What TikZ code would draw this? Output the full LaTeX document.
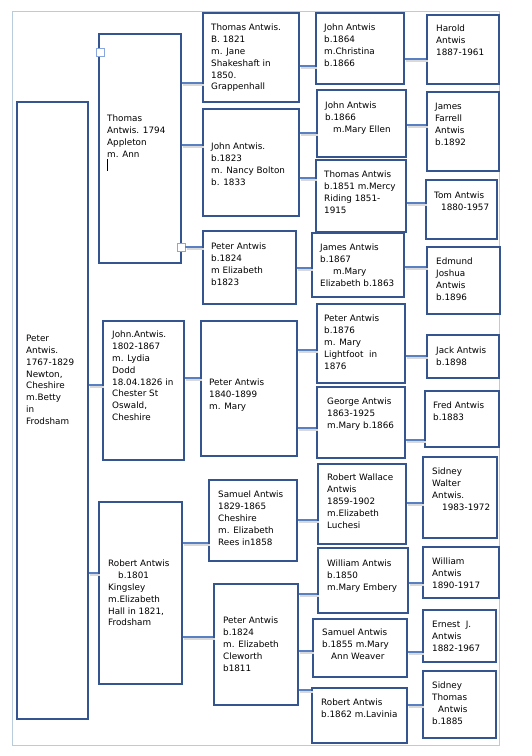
\documentclass[tikz,border=0pt]{standalone}
\usepackage{fontspec}
\setmainfont{DejaVu Sans}
\usetikzlibrary{fit}
\definecolor{boxblue}{HTML}{34558F}
\definecolor{linkblue}{HTML}{5A80C4}
\definecolor{pageline}{HTML}{B9CCDC}
\definecolor{handleblue}{HTML}{8AA6E0}

\begin{document}
\begin{tikzpicture}[x=1pt, y=-1pt,
    person/.style={draw=boxblue, line width=1.4pt, inner sep=0pt},
    txt/.style={anchor=north west, inner sep=0pt, align=left, font=\fontsize{8.8}{11.8}\selectfont},
    link/.style={draw=linkblue, line width=1.6pt, preaction={draw=black!15, line width=2.6pt, transform canvas={shift={(1.5pt,-2pt)}}}},
    handle/.style={draw=handleblue, fill=white, line width=0.8pt, minimum size=8pt, inner sep=0pt}]
    \useasboundingbox (0,0) rectangle (531,756);
    \draw[pageline, line width=0.8pt] (12,11) rectangle (499,745);

    % boxes
    \node[person, fit={(17,102) (88,719)}] (peter1767) {};
    \node[person, fit={(99,34) (181,263)}] (thomas1794) {};
    \node[person, fit={(103,321) (184,460)}] (john1802) {};
    \node[person, fit={(99,502) (182,684)}] (robert1801) {};
    \node[person, fit={(203,13) (299,102)}] (thomas1821) {};
    \node[person, fit={(203,109) (299,216)}] (john1823) {};
    \node[person, fit={(203,231) (296,304)}] (peter1824a) {};
    \node[person, fit={(201,321) (297,456)}] (peter1840) {};
    \node[person, fit={(209,480) (297,561)}] (samuel1829) {};
    \node[person, fit={(214,584) (298,705)}] (peter1824b) {};
    \node[person, fit={(316,13) (404,84)}] (john1864) {};
    \node[person, fit={(317,90) (406,157)}] (john1866) {};
    \node[person, fit={(316,160) (406,232)}] (thomas1851) {};
    \node[person, fit={(312,233) (404,297)}] (james1867) {};
    \node[person, fit={(317,304) (405,383)}] (peter1876) {};
    \node[person, fit={(317,387) (405,458)}] (george) {};
    \node[person, fit={(318,464) (406,544)}] (robertW) {};
    \node[person, fit={(318,548) (408,613)}] (william1850) {};
    \node[person, fit={(313,619) (407,677)}] (samuel1855) {};
    \node[person, fit={(312,688) (407,743)}] (robert1862) {};
    \node[person, fit={(427,15) (499,84)}] (harold) {};
    \node[person, fit={(427,92) (499,171)}] (jamesF) {};
    \node[person, fit={(426,180) (497,239)}] (tom) {};
    \node[person, fit={(427,247) (500,314)}] (edmund) {};
    \node[person, fit={(427,335) (499,378)}] (jack) {};
    \node[person, fit={(425,391) (499,447)}] (fred) {};
    \node[person, fit={(423,457) (497,538)}] (sidneyW) {};
    \node[person, fit={(423,547) (499,598)}] (william1890) {};
    \node[person, fit={(423,610) (496,662)}] (ernest) {};
    \node[person, fit={(423,671) (496,738)}] (sidneyT) {};

    % texts
    \node[txt] (t-peter1767) at (26,335) {Peter\\Antwis.\\1767-1829\\Newton,\\Cheshire\\m.Betty\\in\\Frodsham};
    \node[txt] (t-thomas1794) at (107,115) {Thomas\\Antwis. 1794\\Appleton\\m. Ann};
    \node[txt] (t-john1802) at (112,331) {John.Antwis.\\1802-1867\\m. Lydia\\Dodd\\18.04.1826 in\\Chester St\\Oswald,\\Cheshire};
    \node[txt] (t-robert1801) at (108,560) {Robert Antwis\\\hspace*{10pt}b.1801\\Kingsley\\m.Elizabeth\\Hall in 1821,\\Frodsham};
    \node[txt] (t-thomas1821) at (211,24) {Thomas Antwis.\\B. 1821\\m. Jane\\Shakeshaft in\\1850.\\Grappenhall};
    \node[txt] (t-john1823) at (211,143) {John Antwis.\\b.1823\\m. Nancy Bolton\\b. 1833};
    \node[txt] (t-peter1824a) at (211,243) {Peter Antwis\\b.1824\\m Elizabeth\\b1823};
    \node[txt] (t-peter1840) at (209,379) {Peter Antwis\\1840-1899\\m. Mary};
    \node[txt] (t-samuel1829) at (218,491) {Samuel Antwis\\1829-1865\\Cheshire\\m. Elizabeth\\Rees in1858};
    \node[txt] (t-peter1824b) at (223,617) {Peter Antwis\\b.1824\\m. Elizabeth\\Cleworth\\b1811};
    \node[txt] (t-john1864) at (324,24) {John Antwis\\b.1864\\m.Christina\\b.1866};
    \node[txt] (t-john1866) at (325,102) {John Antwis\\b.1866\\\hspace*{8pt}m.Mary Ellen};
    \node[txt] (t-thomas1851) at (324,171) {Thomas Antwis\\b.1851 m.Mercy\\Riding 1851-\\1915};
    \node[txt] (t-james1867) at (320,244) {James Antwis\\b.1867\\\hspace*{13pt}m.Mary\\Elizabeth b.1863};
    \node[txt] (t-peter1876) at (324,315) {Peter Antwis\\b.1876\\m. Mary\\Lightfoot~~in\\1876};
    \node[txt] (t-george) at (327,398) {George Antwis\\1863-1925\\m.Mary b.1866};
    \node[txt] (t-robertW) at (327,474) {Robert Wallace\\Antwis\\1859-1902\\m.Elizabeth\\Luchesi};
    \node[txt] (t-william1850) at (327,560) {William Antwis\\b.1850\\m.Mary Embery};
    \node[txt] (t-samuel1855) at (322,629) {Samuel Antwis\\b.1855 m.Mary\\\hspace*{9pt}Ann Weaver};
    \node[txt] (t-robert1862) at (321,699) {Robert Antwis\\b.1862 m.Lavinia};
    \node[txt] (t-harold) at (436,25) {Harold\\Antwis\\1887-1961};
    \node[txt] (t-jamesF) at (435,103) {James\\Farrell\\Antwis\\b.1892};
    \node[txt] (t-tom) at (434,192) {Tom Antwis\\\hspace*{7pt}1880-1957};
    \node[txt] (t-edmund) at (436,258) {Edmund\\Joshua\\Antwis\\b.1896};
    \node[txt] (t-jack) at (436,347) {Jack Antwis\\b.1898};
    \node[txt] (t-fred) at (433,402) {Fred Antwis\\b.1883};
    \node[txt] (t-sidneyW) at (432,468) {Sidney\\Walter\\Antwis.\\\hspace*{10pt}1983-1972};
    \node[txt] (t-william1890) at (432,558) {William\\Antwis\\1890-1917};
    \node[txt] (t-ernest) at (432,621) {Ernest~~J.\\Antwis\\1882-1967};
    \node[txt] (t-sidneyT) at (432,682) {Sidney\\Thomas\\\hspace*{6pt}Antwis\\b.1885};

    % cursor and selection handles
    \draw[line width=0.7pt] (107.5,159) -- (107.5,171);
    \node[handle] (h1) at (100,52) {};
    \node[handle] (h2) at (181,247) {};

    % connectors
    \draw[link] (peter1767.east |- 0,385) -- (john1802.west |- 0,385);
    \draw[link] (peter1767.east |- 0,573) -- (robert1801.west |- 0,573);
    \draw[link] (thomas1794.east |- 0,83) -- (thomas1821.west |- 0,83);
    \draw[link] (thomas1794.east |- 0,145) -- (john1823.west |- 0,145);
    \draw[link] (h2.east) -- (peter1824a.west |- h2.east);
    \draw[link] (thomas1821.east |- 0,66) -- (john1864.west |- 0,66);
    \draw[link] (john1864.east |- 0,59) -- (harold.west |- 0,59);
    \draw[link] (john1823.east |- 0,133) -- (john1866.west |- 0,133);
    \draw[link] (john1823.east |- 0,178) -- (thomas1851.west |- 0,178);
    \draw[link] (john1866.east |- 0,125) -- (jamesF.west |- 0,125);
    \draw[link] (thomas1851.east |- 0,203) -- (tom.west |- 0,203);
    \draw[link] (peter1824a.east |- 0,268) -- (james1867.west |- 0,268);
    \draw[link] (james1867.east |- 0,267) -- (edmund.west |- 0,267);
    \draw[link] (john1802.east |- 0,378) -- (peter1840.west |- 0,378);
    \draw[link] (peter1840.east |- 0,350) -- (peter1876.west |- 0,350);
    \draw[link] (peter1840.east |- 0,428) -- (george.west |- 0,428);
    \draw[link] (peter1876.east |- 0,356) -- (jack.west |- 0,356);
    \draw[link] (george.east |- 0,440) -- (fred.west |- 0,440);
    \draw[link] (robert1801.east |- 0,543) -- (samuel1829.west |- 0,543);
    \draw[link] (robert1801.east |- 0,637) -- (peter1824b.west |- 0,637);
    \draw[link] (samuel1829.east |- 0,520) -- (robertW.west |- 0,520);
    \draw[link] (peter1824b.east |- 0,594) -- (william1850.west |- 0,594);
    \draw[link] (peter1824b.east |- 0,651) -- (samuel1855.west |- 0,651);
    \draw[link] (peter1824b.east |- 0,690) -- (robert1862.west |- 0,690);
    \draw[link] (robertW.east |- 0,503) -- (sidneyW.west |- 0,503);
    \draw[link] (william1850.east |- 0,583) -- (william1890.west |- 0,583);
    \draw[link] (samuel1855.east |- 0,652) -- (ernest.west |- 0,652);
    \draw[link] (robert1862.east |- 0,705) -- (sidneyT.west |- 0,705);
\end{tikzpicture}
\end{document}
